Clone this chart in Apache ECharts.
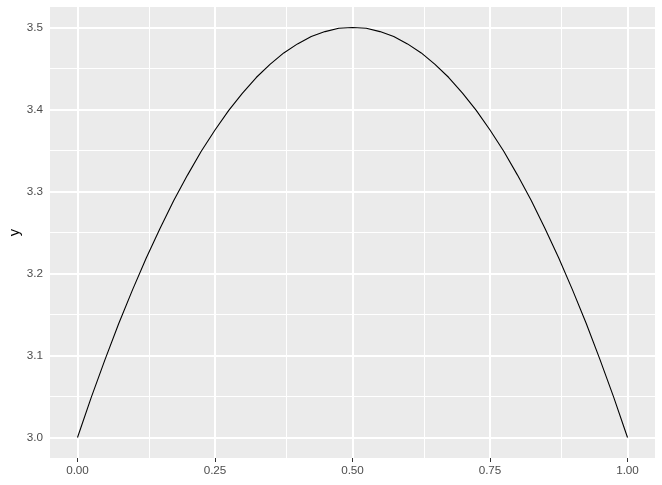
<!DOCTYPE html>
<html>
<head>
<meta charset="utf-8">
<script src="https://cdn.jsdelivr.net/npm/echarts@6/dist/echarts.min.js"></script>
<style>
  html, body { margin: 0; padding: 0; background: #fff; }
  #chart { width: 662px; height: 485px; }
</style>
</head>
<body>
<div id="chart"></div>
<script>
// values
var xs = [0, 0.025, 0.05, 0.075, 0.1, 0.125, 0.15, 0.175, 0.2, 0.225, 0.25,
          0.275, 0.3, 0.325, 0.35, 0.375, 0.4, 0.425, 0.45, 0.475, 0.5,
          0.525, 0.55, 0.575, 0.6, 0.625, 0.65, 0.675, 0.7, 0.725, 0.75,
          0.775, 0.8, 0.825, 0.85, 0.875, 0.9, 0.925, 0.95, 0.975, 1];
var ys = [3.000, 3.049, 3.095, 3.139, 3.180, 3.219, 3.255, 3.289, 3.320, 3.349, 3.375,
          3.399, 3.420, 3.439, 3.455, 3.469, 3.480, 3.489, 3.495, 3.499, 3.500,
          3.499, 3.495, 3.489, 3.480, 3.469, 3.455, 3.439, 3.420, 3.399, 3.375,
          3.349, 3.320, 3.289, 3.255, 3.219, 3.180, 3.139, 3.095, 3.049, 3.000];

var xTicks = [0, 0.25, 0.5, 0.75, 1];
var xMinor = [0.125, 0.375, 0.625, 0.875];
var yTicks = [3.0, 3.1, 3.2, 3.3, 3.4, 3.5];
var yMinor = [3.05, 3.15, 3.25, 3.35, 3.45];

var myChart = echarts.init(document.getElementById('chart'));

var data = [];
for (var i = 0; i < xs.length; i++) {
    data.push([xs[i], ys[i]]);
}

var gridLines = [];
xTicks.forEach(function(v){ gridLines.push({xAxis: v, lineStyle: {width: 2}}); });
xMinor.forEach(function(v){ gridLines.push({xAxis: v, lineStyle: {width: 1}}); });
yTicks.forEach(function(v){ gridLines.push({yAxis: v, lineStyle: {width: 2}}); });
yMinor.forEach(function(v){ gridLines.push({yAxis: v, lineStyle: {width: 1}}); });

var labelStyle = {color: '#4d4d4d', fontSize: 11.7, fontFamily: 'Liberation Sans, Arial, sans-serif'};

option = {
    animation: false,
    backgroundColor: '#ffffff',
    grid: {
        left: 50, right: 7, top: 7, bottom: 27,
        outerBoundsMode: 'none',
        containLabel: false,
        show: true, backgroundColor: '#ebebeb', borderWidth: 0
    },
    xAxis: {
        type: 'value',
        min: -0.05,
        max: 1.05,
        splitLine: {show: false},
        axisLine: {show: false},
        axisTick: {show: true, length: 4, customValues: xTicks, lineStyle: {color: '#333333', width: 1}},
        axisLabel: Object.assign({
            customValues: xTicks,
            margin: 7,
            formatter: function(v){ return v.toFixed(2); }
        }, labelStyle)
    },
    yAxis: {
        type: 'value',
        min: 2.975,
        max: 3.525,
        name: 'y',
        nameLocation: 'middle',
        nameRotate: 90,
        nameGap: 28,
        nameMoveOverlap: false,
        nameTextStyle: {color: '#000000', fontSize: 14.7, fontFamily: 'Liberation Sans, Arial, sans-serif'},
        splitLine: {show: false},
        axisLine: {show: false},
        axisTick: {show: true, length: 4, customValues: yTicks, lineStyle: {color: '#333333', width: 1}},
        axisLabel: Object.assign({
            customValues: yTicks,
            margin: 7,
            formatter: function(v){ return v.toFixed(1); }
        }, labelStyle)
    },
    series: [
        {
            type: 'line',
            data: [],
            silent: true,
            markLine: {
                silent: true,
                symbol: ['none', 'none'],
                label: {show: false},
                lineStyle: {color: '#ffffff', type: 'solid'},
                emphasis: {disabled: true},
                data: gridLines
            }
        },
        {
            type: 'line',
            data: data,
            showSymbol: false,
            smooth: false,
            lineStyle: {color: '#000000', width: 1.1},
            zlevel: 1
        }
    ]
};
myChart.setOption(option);
</script>
</body>
</html>
